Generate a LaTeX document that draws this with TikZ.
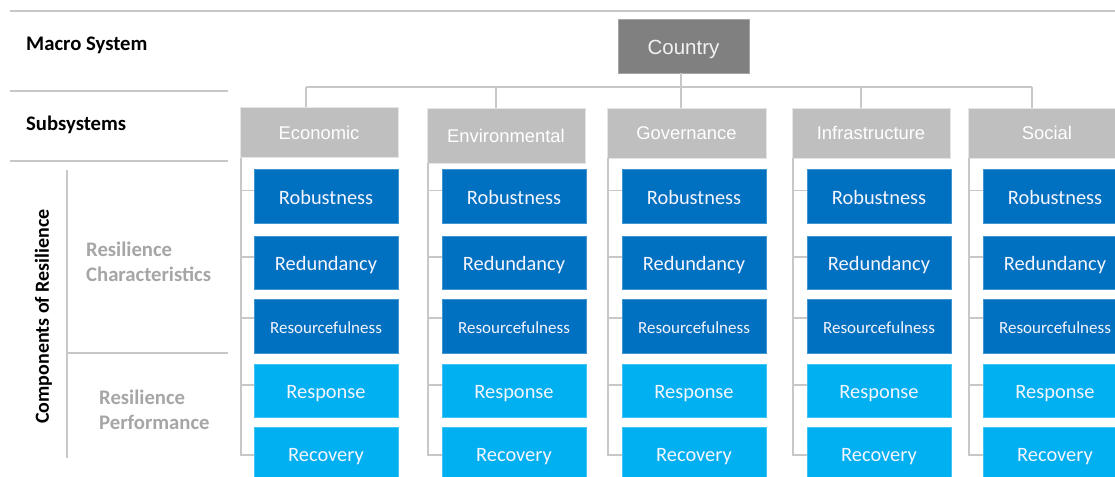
\documentclass[tikz,border=0pt]{standalone}
\usepackage{fontspec}
\setmainfont{Carlito}
\newfontfamily\arialfont{Liberation Sans}
\usetikzlibrary{calc}

\definecolor{rulegray}{HTML}{C8C8C8}
\definecolor{labelgray}{HTML}{A6A6A6}
\definecolor{countrygray}{HTML}{808080}
\definecolor{subgray}{HTML}{BFBFBF}
\definecolor{darkblue}{HTML}{0070C0}
\definecolor{lightblue}{HTML}{00B0F0}

\tikzset{
  rule/.style={draw=rulegray, line width=1.5pt},
  conn/.style={draw=rulegray, line width=1.5pt},
  countrybox/.style={rectangle, fill=countrygray, draw=labelgray, line width=0.8pt,
    inner sep=0pt, outer sep=0pt, minimum width=131pt, minimum height=54pt,
    text height=16.6pt, text depth=0pt,
    text=white!95!black, font=\arialfont\fontsize{20.5}{24}\selectfont},
  subbox/.style={rectangle, fill=subgray, draw=white!60!subgray, line width=0.8pt,
    inner sep=0pt, outer sep=0pt, minimum width=158pt, minimum height=50pt,
    text height=13.4pt, text depth=0pt,
    text=white, font=\arialfont\fontsize{18.4}{22}\selectfont},
  charbox/.style={rectangle, fill=darkblue, draw=white!25!darkblue, line width=0.8pt,
    inner sep=0pt, outer sep=0pt, minimum width=144pt, minimum height=53.5pt,
    text height=15pt, text depth=0pt,
    text=white!96!blue, font=\fontsize{20.4}{24}\selectfont},
  perfbox/.style={charbox, fill=lightblue, draw=white!25!lightblue},
  smalltext/.style={text height=13.6pt, font=\fontsize{17}{20}\selectfont},
  headlabel/.style={anchor=base west, inner sep=0pt, font=\bfseries\fontsize{20.7}{24}\selectfont},
  grouplabel/.style={anchor=west, inner sep=0pt, align=left, text=labelgray,
    font=\bfseries\fontsize{20.7}{25}\selectfont}
}

\begin{document}
\begin{tikzpicture}[x=1pt,y=-1pt]
  \useasboundingbox (0,0) rectangle (1115,476);
  \fill[white] (0,0) rectangle (1115,476);
  \clip (0,0) rectangle (1115,476);

  % row rules and headings on the left
  \draw[rule] (10,11) -- (1115,11);
  \draw[rule] (10,91) -- (228,91);
  \draw[rule] (10,161) -- (228,161);
  \draw[rule] (67,170) -- (67,458);
  \draw[rule] (67,353) -- (228,353);

  \node[headlabel] (lmacro) at (26,50.7) {Macro System};
  \node[headlabel] (lsub) at (26,130) {Subsystems};
  \node[headlabel, anchor=center, rotate=90, font=\bfseries\fontsize{20}{24}\selectfont]
    (lcomp) at (43.5,316.5) {Components of Resilience};
  \node[grouplabel] (lchar) at (86,262) {Resilience\\Characteristics};
  \node[grouplabel] (lperf) at (99,410) {Resilience\\Performance};

  % macro system
  \node[countrybox] (country) at (683.5,46) {Country};

  % subsystems
  \node[subbox] (eco) at (319,132.5) {Economic};
  \node[subbox, minimum height=55pt] (env) at (506,135.5) {Environmental};
  \node[subbox, minimum width=159pt] (gov) at (686.5,133) {Governance};
  \node[subbox] (inf) at (871,133) {Infrastructure};
  \node[subbox] (soc) at (1047,133) {Social};

  % bus from the country to every subsystem
  \coordinate (bus) at (0,87);
  \draw[conn] ([xshift=-2.5pt]country.south) -- ([xshift=-2.5pt]country.south |- bus);
  \draw[conn] ([xshift=-13pt]eco.north |- bus) -- ([xshift=-15pt]soc.north |- bus);
  \draw[conn] ([xshift=-13pt]eco.north) -- ([xshift=-13pt]eco.north |- bus);
  \draw[conn] ([xshift=-10pt]env.north) -- ([xshift=-10pt]env.north |- bus);
  \draw[conn] ([xshift=-5.5pt]gov.north) -- ([xshift=-5.5pt]gov.north |- bus);
  \draw[conn] ([xshift=-10pt]inf.north) -- ([xshift=-10pt]inf.north |- bus);
  \draw[conn] ([xshift=-15pt]soc.north) -- ([xshift=-15pt]soc.north |- bus);

  % components of resilience under each subsystem
  \foreach \c/\x in {eco/326, env/514, gov/694, inf/879, soc/1055} {
    \node[charbox] (\c1) at (\x,196.5) {Robustness};
    \node[charbox] (\c2) at (\x,263) {Redundancy};
    \node[charbox, smalltext] (\c3) at (\x,326.5) {Resourcefulness};
    \node[perfbox] (\c4) at (\x,391) {Response};
    \node[perfbox] (\c5) at (\x,454) {Recovery};

    \coordinate (\c sp) at ([xshift=1pt]\c.south west);
    \draw[conn] (\c sp) |- ([yshift=-1pt]\c5.west);
    \draw[conn] ([yshift=6pt]\c1.west) -- ([yshift=6pt]\c1.west -| \c sp);
    \draw[conn] ([yshift=6pt]\c2.west) -- ([yshift=6pt]\c2.west -| \c sp);
    \draw[conn] ([yshift=8.5pt]\c3.west) -- ([yshift=8.5pt]\c3.west -| \c sp);
    \draw[conn] ([yshift=6pt]\c4.west) -- ([yshift=6pt]\c4.west -| \c sp);
  }
\end{tikzpicture}
\end{document}
